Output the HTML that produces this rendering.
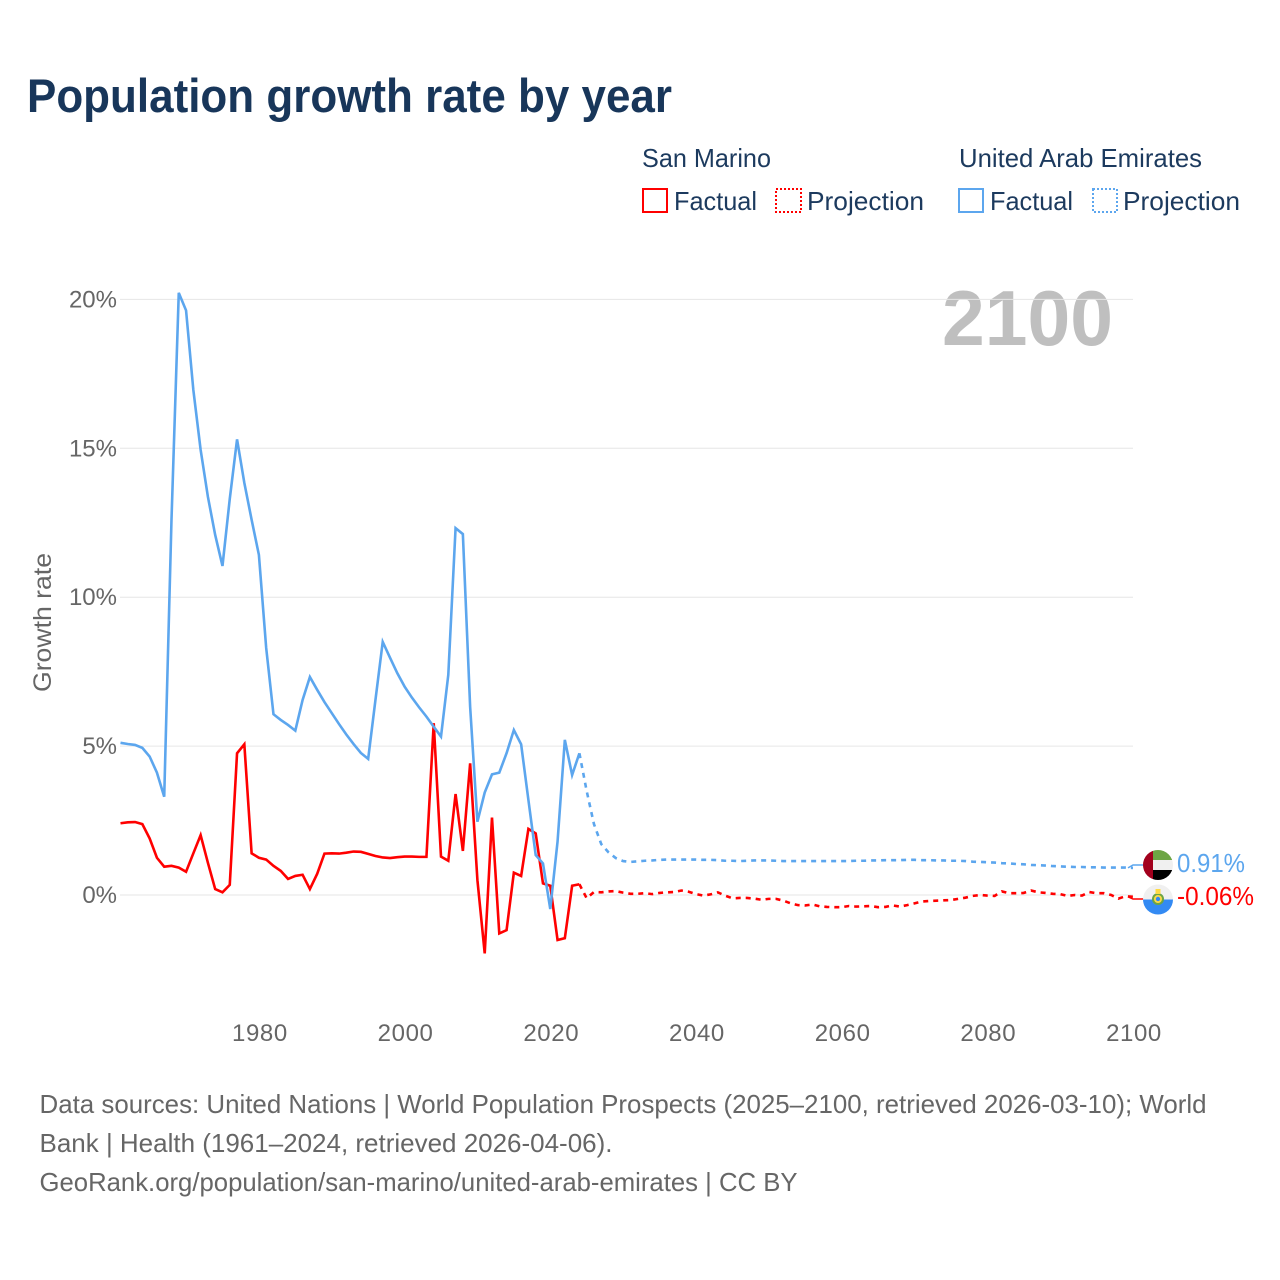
<!DOCTYPE html>
<html lang="en">
<head>
<meta charset="utf-8">
<title>Population growth rate by year</title>
<style>
html,body{margin:0;padding:0;background:#fff}
svg{display:block}
text{font-family:"Liberation Sans",Arial,sans-serif}
</style>
</head>
<body>
<svg id="chart" xmlns="http://www.w3.org/2000/svg" width="1280" height="1280" viewBox="0 0 1280 1280">
  <rect x="0" y="0" width="1280" height="1280" fill="#ffffff"/>
  <text x="27" y="112" font-size="47" font-weight="700" fill="#18365a" textLength="645" lengthAdjust="spacingAndGlyphs">Population growth rate by year</text>

  <g font-size="26" fill="#1c3a5e">
    <text x="642" y="167" textLength="129" lengthAdjust="spacingAndGlyphs">San Marino</text>
    <text x="959" y="167" textLength="243" lengthAdjust="spacingAndGlyphs">United Arab Emirates</text>
    <rect x="643" y="189" width="24" height="23" fill="none" stroke="#ff0000" stroke-width="2"/>
    <text x="674" y="210" textLength="83" lengthAdjust="spacingAndGlyphs">Factual</text>
    <rect x="776" y="189" width="25" height="23" fill="none" stroke="#ff0000" stroke-width="2" stroke-dasharray="2 2"/>
    <text x="807" y="210" textLength="117" lengthAdjust="spacingAndGlyphs">Projection</text>
    <rect x="959" y="189" width="24" height="23" fill="none" stroke="#5ca6ee" stroke-width="2"/>
    <text x="990" y="210" textLength="83" lengthAdjust="spacingAndGlyphs">Factual</text>
    <rect x="1093" y="189" width="24" height="23" fill="none" stroke="#5ca6ee" stroke-width="2" stroke-dasharray="2 2"/>
    <text x="1123" y="210" textLength="117" lengthAdjust="spacingAndGlyphs">Projection</text>
  </g>

  <text x="942" y="345" font-size="78" font-weight="700" fill="#bfbfbf" textLength="171" lengthAdjust="spacingAndGlyphs">2100</text>

  <text transform="translate(51 622.5) rotate(-90)" text-anchor="middle" font-size="25" fill="#666666" textLength="139" lengthAdjust="spacingAndGlyphs">Growth rate</text>

  <g id="grid"></g>
  <g id="yticks" font-size="24" fill="#666666" text-anchor="end"></g>
  <g id="xticks" font-size="24" fill="#666666" text-anchor="middle"></g>
  <g id="series" fill="none" stroke-width="2.6" stroke-linejoin="miter"></g>

  <g>
    <clipPath id="clip-uae"><circle cx="1158" cy="865" r="15"/></clipPath>
    <g clip-path="url(#clip-uae)">
      <rect x="1143" y="850" width="30" height="30" fill="#f0f0f0"/>
      <rect x="1153" y="850" width="20" height="10" fill="#6da544"/>
      <rect x="1153" y="870" width="20" height="10" fill="#000000"/>
      <rect x="1143" y="850" width="10" height="30" fill="#a2001d"/>
    </g>
    <text id="label-uae" x="1177" y="872" font-size="26" fill="#5ca6ee" textLength="68" lengthAdjust="spacingAndGlyphs">0.91%</text>
  </g>
  <g>
    <clipPath id="clip-sm"><circle cx="1158" cy="899.5" r="15"/></clipPath>
    <g clip-path="url(#clip-sm)">
      <rect x="1143" y="884" width="30" height="16" fill="#f0f0f0"/>
      <rect x="1143" y="899.5" width="30" height="16" fill="#338af3"/>
      <circle cx="1158" cy="899" r="6" fill="#6da544"/>
      <circle cx="1158" cy="899" r="4" fill="#ffda44"/>
      <circle cx="1158" cy="899" r="2.2" fill="#338af3"/>
      <rect x="1155.5" y="889" width="5" height="5" fill="#ffda44"/>
    </g>
    <text id="label-sm" x="1177" y="905" font-size="26" fill="#ff0000" textLength="77" lengthAdjust="spacingAndGlyphs">-0.06%</text>
  </g>

  <g font-size="26" fill="#666666">
    <text x="39.5" y="1113" textLength="1167" lengthAdjust="spacingAndGlyphs">Data sources: United Nations | World Population Prospects (2025–2100, retrieved 2026-03-10); World</text>
    <text x="39.5" y="1152" textLength="573" lengthAdjust="spacingAndGlyphs">Bank | Health (1961–2024, retrieved 2026-04-06).</text>
    <text x="39.5" y="1191" textLength="758" lengthAdjust="spacingAndGlyphs">GeoRank.org/population/san-marino/united-arab-emirates | CC BY</text>
  </g>
</svg>
<script>
// Values in percent per year. Factual series start in 1961, projections start in 2024.
const firstFactualYear = 1961;
const firstProjectionYear = 2024;
const yTicks = [0, 5, 10, 15, 20];
const xTicks = [1980, 2000, 2020, 2040, 2060, 2080, 2100];
const sanMarinoFactual = [
  2.41,2.44,2.45,2.38,1.9,1.25,0.95,0.98,0.92,0.78,
  1.4,2.01,1.08,0.2,0.09,0.34,4.76,5.06,1.4,1.25,
  1.19,0.98,0.81,0.54,0.64,0.68,0.2,0.71,1.39,1.4,
  1.39,1.42,1.46,1.45,1.38,1.31,1.26,1.24,1.27,1.29,
  1.29,1.28,1.28,5.77,1.29,1.15,3.39,1.48,4.42,0.5,
  -1.96,2.6,-1.29,-1.18,0.75,0.64,2.22,2.07,0.39,0.31,
  -1.51,-1.45,0.31,0.36
];
const sanMarinoProjection = [
  0.36,-0.11,0.1,0.09,0.12,0.13,0.08,0.04,0.04,0.06,
  0.03,0.07,0.09,0.1,0.15,0.11,0.03,-0.02,0.02,0.09,
  -0.02,-0.11,-0.1,-0.1,-0.12,-0.16,-0.13,-0.13,-0.19,-0.28,
  -0.34,-0.35,-0.32,-0.38,-0.4,-0.41,-0.41,-0.37,-0.39,-0.38,
  -0.37,-0.41,-0.4,-0.35,-0.39,-0.34,-0.28,-0.22,-0.2,-0.19,
  -0.18,-0.17,-0.13,-0.09,-0.03,0,-0.02,-0.03,0.12,0.06,
  0.06,0.07,0.15,0.09,0.07,0.04,0.03,-0.03,0,-0.02,
  0.1,0.06,0.06,0,-0.12,-0.04,-0.06
];
const uaeFactual = [
  5.11,5.07,5.04,4.94,4.65,4.11,3.3,12.6,20.22,19.63,
  16.96,14.95,13.37,12.09,11.05,13.3,15.3,13.84,12.6,11.42,
  8.3,6.07,5.88,5.71,5.52,6.55,7.32,6.89,6.48,6.11,
  5.74,5.39,5.07,4.77,4.57,6.55,8.5,7.97,7.45,7.0,
  6.63,6.3,5.99,5.65,5.32,7.39,12.32,12.12,6.32,2.46,
  3.44,4.05,4.11,4.76,5.54,5.06,3.19,1.34,1.06,-0.47,
  1.79,5.21,4.03,4.76
];
const uaeProjection = [
  4.76,3.49,2.38,1.71,1.43,1.24,1.14,1.11,1.13,1.15,
  1.16,1.18,1.19,1.19,1.19,1.19,1.19,1.18,1.18,1.17,
  1.15,1.15,1.14,1.15,1.16,1.16,1.16,1.15,1.14,1.14,
  1.14,1.14,1.14,1.14,1.14,1.14,1.14,1.14,1.15,1.15,
  1.16,1.16,1.17,1.17,1.17,1.18,1.18,1.17,1.17,1.16,
  1.16,1.15,1.15,1.14,1.12,1.11,1.1,1.09,1.07,1.06,
  1.04,1.03,1.01,1,0.99,0.97,0.96,0.95,0.94,0.94,
  0.93,0.93,0.92,0.92,0.92,0.92,0.91
];

const SVGNS = 'http://www.w3.org/2000/svg';
function xScale(year) { return 120.5 + (year - 1961) * (1133 - 120.5) / (2100 - 1961); }
function yScale(pct) { return 895 - pct * 29.78; }
function pathFrom(values, startYear) {
  return values.map(function (v, i) {
    return (i ? 'L' : 'M') + xScale(startYear + i).toFixed(2) + ' ' + yScale(v).toFixed(2);
  }).join(' ');
}

const grid = document.getElementById('grid');
const yTickGroup = document.getElementById('yticks');
const xTickGroup = document.getElementById('xticks');
const seriesGroup = document.getElementById('series');

yTicks.forEach(function (t) {
  const line = document.createElementNS(SVGNS, 'line');
  
  
  line.setAttribute('x1', xScale(1961) - 0.5);
  line.setAttribute('x2', xScale(2100));
  line.setAttribute('y1', yScale(t));
  line.setAttribute('y2', yScale(t));
  line.setAttribute('stroke', '#e6e6e6');
  line.setAttribute('stroke-width', '1');
  grid.appendChild(line);

  const label = document.createElementNS(SVGNS, 'text');
  
  
  label.setAttribute('x', 117);
  label.setAttribute('y', yScale(t) + 8);
  label.textContent = t + '%';
  yTickGroup.appendChild(label);
});

xTicks.forEach(function (t) {
  const label = document.createElementNS(SVGNS, 'text');
  
  
  label.setAttribute('x', xScale(t) + 1);
  label.setAttribute('y', 1041);
  label.setAttribute('letter-spacing', '0.6');
  label.textContent = t;
  xTickGroup.appendChild(label);
});

function addSeries(values, startYear, color, dashed, name) {
  const path = document.createElementNS(SVGNS, 'path');
  
  
  path.setAttribute('d', pathFrom(values, startYear));
  path.setAttribute('stroke', color);
  if (dashed) path.setAttribute('stroke-dasharray', '5 5');
  seriesGroup.appendChild(path);
}
function addConnector(lastValue, flagY, color, name) {
  const path = document.createElementNS(SVGNS, 'path');
  
  
  path.setAttribute('d', 'M' + (xScale(2100) - 5) + ' ' + yScale(lastValue) + ' L' + xScale(2100) + ' ' + flagY + ' L1146 ' + flagY);
  path.setAttribute('stroke', color);
  path.setAttribute('stroke-width', '1.5');
  seriesGroup.appendChild(path);
}

addSeries(sanMarinoFactual, firstFactualYear, '#ff0000', false, 'san-marino-factual-line');
addSeries(sanMarinoProjection, firstProjectionYear, '#ff0000', true, 'san-marino-projection-line');
addSeries(uaeFactual, firstFactualYear, '#5ca6ee', false, 'uae-factual-line');
addSeries(uaeProjection, firstProjectionYear, '#5ca6ee', true, 'uae-projection-line');
addConnector(sanMarinoProjection[sanMarinoProjection.length - 1], 899, '#ff0000', 'san-marino-end-connector');
addConnector(uaeProjection[uaeProjection.length - 1], 865, '#5ca6ee', 'uae-end-connector');
</script>
</body>
</html>
